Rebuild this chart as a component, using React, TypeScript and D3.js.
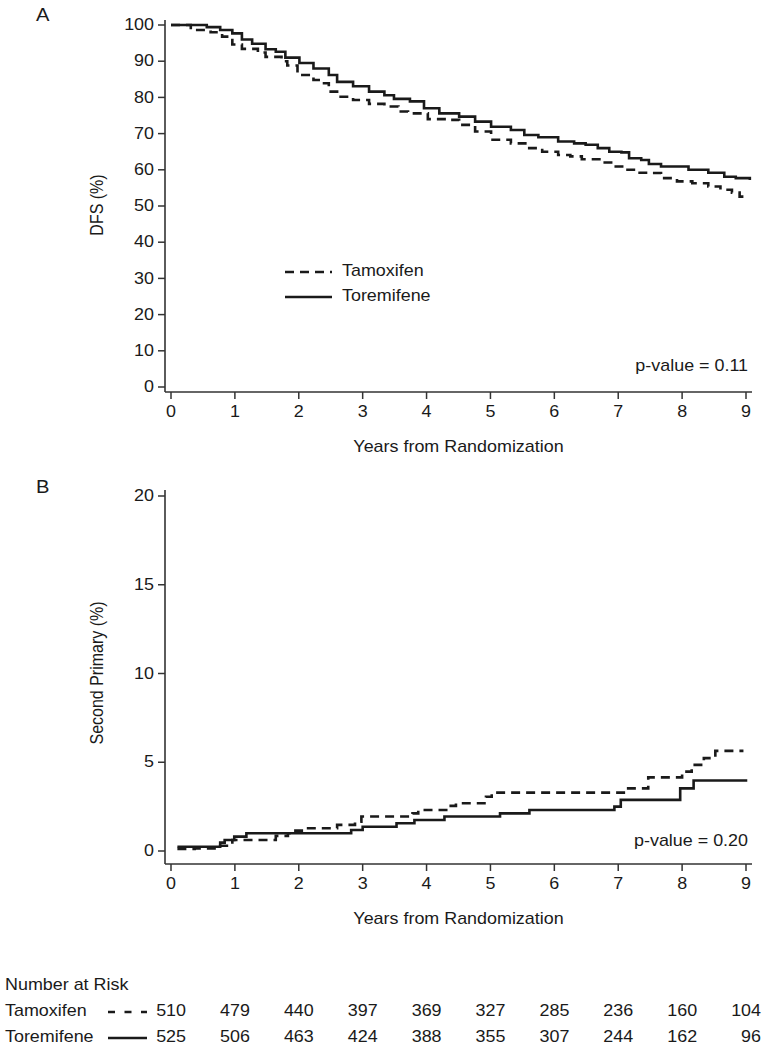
import React from "react";
import * as d3 from "d3";

// ---------- data ----------
const xTicks = [0, 1, 2, 3, 4, 5, 6, 7, 8, 9];
const yTicksA = [0, 10, 20, 30, 40, 50, 60, 70, 80, 90, 100];
const yTicksB = [0, 5, 10, 15, 20];

// Panel A: DFS (%)
const tamA_t = [0, 0.31, 0.62, 0.8, 0.96, 1.11, 1.36, 1.48, 1.73, 1.82, 1.98, 2.23, 2.35, 2.47, 2.6, 2.85, 3.1, 3.34, 3.56, 3.71, 4.02, 4.33, 4.51, 4.76, 5.01, 5.32, 5.57, 5.81, 6.06, 6.25, 6.43, 6.74, 6.93, 7.11, 7.3, 7.54, 7.67, 7.92, 8.16, 8.41, 8.6, 8.78, 8.9, 9.0];
const tamA_v = [100, 98.6, 98.0, 96.8, 94.6, 93.4, 92.4, 91.2, 90.0, 88.8, 86.2, 84.8, 83.9, 81.6, 80.2, 79.3, 78.2, 77.5, 76.1, 75.6, 74.0, 73.8, 72.4, 70.6, 68.3, 67.3, 66.0, 65.0, 64.1, 63.7, 62.9, 62.0, 60.9, 60.0, 59.2, 59.1, 57.7, 56.8, 56.3, 55.4, 54.5, 53.7, 52.6, 52.2];
const torA_t = [0, 0.56, 0.77, 0.96, 1.11, 1.27, 1.48, 1.64, 1.79, 2.01, 2.23, 2.47, 2.6, 2.85, 3.1, 3.34, 3.49, 3.74, 3.96, 4.2, 4.51, 4.76, 5.01, 5.32, 5.53, 5.75, 6.06, 6.31, 6.49, 6.68, 6.86, 7.05, 7.17, 7.36, 7.48, 7.67, 8.1, 8.41, 8.66, 8.84, 9.06];
const torA_v = [100, 99.4, 98.6, 97.7, 96.0, 94.8, 93.3, 92.6, 91.0, 89.5, 88.0, 86.2, 84.3, 83.1, 81.6, 80.6, 79.6, 78.9, 77.0, 75.6, 74.7, 73.3, 71.9, 71.0, 69.6, 69.0, 67.8, 67.3, 66.9, 66.0, 65.0, 64.8, 63.2, 62.7, 61.6, 60.9, 60.0, 59.2, 58.1, 57.7, 57.2];

// Panel B: Second primary (%)
const tamB_t = [0.1, 0.37, 0.77, 0.9, 0.96, 1.64, 1.83, 1.89, 2.08, 2.6, 2.88, 2.98, 3.78, 3.87, 4.34, 4.46, 4.93, 5.02, 7.13, 7.47, 8.0, 8.15, 8.34, 8.52, 8.96];
const tamB_v = [0.12, 0.15, 0.3, 0.4, 0.62, 0.85, 1.0, 1.15, 1.28, 1.47, 1.65, 1.94, 2.12, 2.31, 2.54, 2.69, 3.06, 3.29, 3.53, 4.15, 4.47, 4.85, 5.23, 5.64, 5.64];
const torB_t = [0.1, 0.77, 0.84, 0.99, 1.18, 2.82, 3.0, 3.53, 3.81, 4.28, 5.15, 5.61, 6.94, 7.04, 7.97, 8.18, 9.02];
const torB_v = [0.24, 0.47, 0.62, 0.81, 1.0, 1.18, 1.37, 1.56, 1.75, 1.94, 2.12, 2.31, 2.5, 2.88, 3.53, 3.97, 3.97];

const riskTam = [510, 479, 440, 397, 369, 327, 285, 236, 160, 104];
const riskTor = [525, 506, 463, 424, 388, 355, 307, 244, 162, 96];

const seriesNames = ["Tamoxifen", "Toremifene"];

// ---------- layout ----------
const W = 767;
const H = 1050;
const SX = 1.12; // horizontal stretch of the original text
const FONT = "'Liberation Sans', Arial, Helvetica, sans-serif";
const INK = "#1a1a1a";
const AX = "#333";
const DASH = "9,6";

const xA = d3.scaleLinear().domain([0, 9]).range([171, 746]);
const yA = d3.scaleLinear().domain([0, 100]).range([387, 25]);
const xB = d3.scaleLinear().domain([0, 9]).range([171, 746]);
const yB = d3.scaleLinear().domain([0, 20]).range([851, 496]);

function T({ x, y, anchor = "start", size = 16, rotate = false, children }: any) {
  return (
    <text
      transform={`translate(${x},${y}) scale(${SX},1)${rotate ? " rotate(-90)" : ""}`}
      textAnchor={anchor}
      dominantBaseline="central"
      fontSize={size}
      fontFamily={FONT}
      fill={INK}
    >
      {children}
    </text>
  );
}

function toPts(ts: number[], vs: number[]) {
  return ts.map((t, i) => [t, vs[i]] as [number, number]);
}

function Panel({ x, y, yTicks, axisLeftX, axisTopY, axisBottomY, label, labelY, ylab, ylabY, pval, pvalY, tam, tor }: any) {
  const line = d3
    .line<[number, number]>()
    .x((d) => x(d[0]))
    .y((d) => y(d[1]))
    .curve(d3.curveStepAfter);
  const xr = x.range();
  return (
    <g>
      {/* y axis */}
      <line x1={axisLeftX} x2={axisLeftX} y1={axisTopY} y2={axisBottomY} stroke={AX} strokeWidth={1.6} />
      {yTicks.map((v: number) => (
        <g key={"y" + v}>
          <line x1={axisLeftX - 7} x2={axisLeftX} y1={y(v)} y2={y(v)} stroke={AX} strokeWidth={1.5} />
          <T x={axisLeftX - 11} y={y(v)} anchor="end">{v}</T>
        </g>
      ))}
      {/* x axis */}
      <line x1={axisLeftX} x2={xr[1] + 6} y1={axisBottomY} y2={axisBottomY} stroke={AX} strokeWidth={1.6} />
      {xTicks.map((t: number) => (
        <g key={"x" + t}>
          <line x1={x(t)} x2={x(t)} y1={axisBottomY} y2={axisBottomY + 7} stroke={AX} strokeWidth={1.5} />
          <T x={x(t)} y={axisBottomY + 20} anchor="middle">{t}</T>
        </g>
      ))}
      <T x={(xr[0] + xr[1]) / 2} y={axisBottomY + 55} anchor="middle">Years from Randomization</T>
      <T x={97} y={ylabY} anchor="middle" rotate>{ylab}</T>
      <T x={36} y={labelY} size={18}>{label}</T>
      <T x={748} y={pvalY} anchor="end">{pval}</T>
      {/* curves */}
      <path d={line(tam) || ""} fill="none" stroke={INK} strokeWidth={2.6} strokeDasharray={DASH} />
      <path d={line(tor) || ""} fill="none" stroke={INK} strokeWidth={2.6} />
    </g>
  );
}

export default function App() {
  const riskX = d3.scaleLinear().domain([0, 9]).range([171, 746]);
  return (
    <svg
      width={W}
      height={H}
      viewBox={`0 0 ${W} ${H}`}
      style={{ position: "absolute", left: 0, top: 0, background: "#fff" }}
    >
      <rect x={0} y={0} width={W} height={H} fill="#fff" />
      <Panel
        x={xA}
        y={yA}
        yTicks={yTicksA}
        axisLeftX={165}
        axisTopY={20}
        axisBottomY={392}
        label="A"
        labelY={15}
        ylab="DFS (%)"
        ylabY={205}
        pval="p-value = 0.11"
        pvalY={366}
        tam={toPts(tamA_t, tamA_v)}
        tor={toPts(torA_t, torA_v)}
      />
      {/* legend in panel A */}
      <line x1={285} x2={332} y1={272} y2={272} stroke={INK} strokeWidth={2.6} strokeDasharray={DASH} />
      <T x={342} y={271}>{seriesNames[0]}</T>
      <line x1={285} x2={332} y1={297} y2={297} stroke={INK} strokeWidth={2.6} />
      <T x={342} y={296}>{seriesNames[1]}</T>

      <Panel
        x={xB}
        y={yB}
        yTicks={yTicksB}
        axisLeftX={165}
        axisTopY={490}
        axisBottomY={864}
        label="B"
        labelY={487}
        ylab="Second Primary (%)"
        ylabY={673}
        pval="p-value = 0.20"
        pvalY={841}
        tam={toPts(tamB_t, tamB_v)}
        tor={toPts(torB_t, torB_v)}
      />

      {/* number at risk */}
      <T x={5} y={985}>Number at Risk</T>
      <T x={5} y={1011}>{seriesNames[0]}</T>
      <line x1={108} x2={147} y1={1012} y2={1012} stroke={INK} strokeWidth={2.4} strokeDasharray="7,9.5" />
      <T x={5} y={1037}>{seriesNames[1]}</T>
      <line x1={108} x2={147} y1={1038} y2={1038} stroke={INK} strokeWidth={2.6} />
      {riskTam.map((n, i) => (
        <T key={"rt" + i} x={riskX(i) + 15} y={1011} anchor="end">{n}</T>
      ))}
      {riskTor.map((n, i) => (
        <T key={"ro" + i} x={riskX(i) + 15} y={1037} anchor="end">{n}</T>
      ))}
    </svg>
  );
}
